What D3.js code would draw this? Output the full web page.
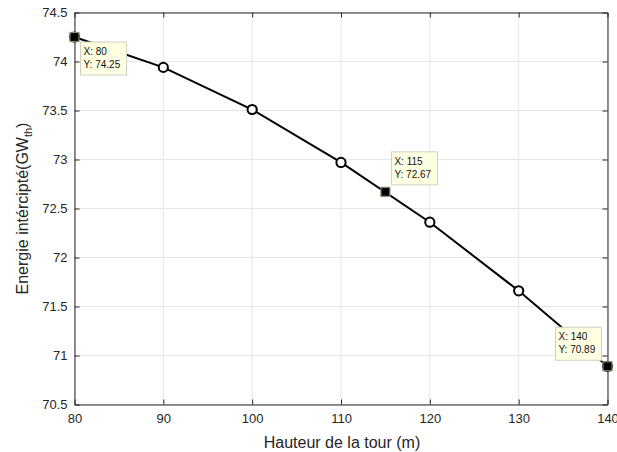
<!DOCTYPE html>
<html><head><meta charset="utf-8">
<script src="https://cdn.jsdelivr.net/npm/d3@7"></script>
<style>body{margin:0;background:#fff}svg{display:block;font-family:"Liberation Sans",Arial,sans-serif}</style>
</head><body><svg id="c" width="617" height="452"></svg>
<script>
const heights = [80, 90, 100, 110, 120, 130, 140];
const energy = [74.25, 73.94, 73.51, 72.97, 72.36, 71.66, 70.89];
const tipX = [80, 115, 140];
const tipY = [74.25, 72.67, 70.89];
const xTicks = [80, 90, 100, 110, 120, 130, 140];
const yTicks = [70.5, 71, 71.5, 72, 72.5, 73, 73.5, 74, 74.5];

const svg = d3.select("#c");
const L = 74.5, R = 607.5, T = 12.5, B = 404.5;
const x = d3.scaleLinear().domain([80, 140]).range([L, R]);
const y = d3.scaleLinear().domain([70.5, 74.5]).range([B, T]);

// grid
svg.append("g").selectAll("line").data(xTicks).join("line")
  .attr("x1", d => x(d)).attr("x2", d => x(d)).attr("y1", T).attr("y2", B)
  .attr("stroke", "#e6e6e6").attr("stroke-width", 1);
svg.append("g").selectAll("line").data(yTicks).join("line")
  .attr("y1", d => y(d)).attr("y2", d => y(d)).attr("x1", L).attr("x2", R)
  .attr("stroke", "#e6e6e6").attr("stroke-width", 1);

// axes
const fs = "13px";
const xa = svg.append("g").attr("transform", `translate(0,${B})`)
  .call(d3.axisBottom(x).tickValues(xTicks).tickSizeInner(-5).tickSizeOuter(0).tickPadding(9));
const ya = svg.append("g").attr("transform", `translate(${L},0)`)
  .call(d3.axisLeft(y).tickValues(yTicks).tickFormat(d3.format("")).tickSizeInner(-5).tickSizeOuter(0).tickPadding(7));
const xt = svg.append("g").attr("transform", `translate(0,${T})`)
  .call(d3.axisTop(x).tickValues(xTicks).tickSizeInner(-5).tickSizeOuter(0).tickFormat(""));
const yr = svg.append("g").attr("transform", `translate(${R},0)`)
  .call(d3.axisRight(y).tickValues(yTicks).tickSizeInner(-5).tickSizeOuter(0).tickFormat(""));
[xa, ya, xt, yr].forEach(g => {
  g.selectAll("path").attr("stroke", "#262626");
  g.selectAll("line").attr("stroke", "#262626");
  g.selectAll("text").attr("fill", "#262626").style("font-size", fs).style("font-family", '"Liberation Sans",Arial,sans-serif');
});

// line
svg.append("path").datum(heights.map((h, i) => [h, energy[i]]))
  .attr("d", d3.line().x(d => x(d[0])).y(d => y(d[1])))
  .attr("fill", "none").attr("stroke", "#000").attr("stroke-width", 2);

// circle markers
svg.append("g").selectAll("circle").data(heights.map((h, i) => [h, energy[i]])).join("circle")
  .attr("cx", d => x(d[0])).attr("cy", d => y(d[1])).attr("r", 4.6)
  .attr("fill", "#fff").attr("stroke", "#000").attr("stroke-width", 2);

// data tips
const tips = tipX.map((v, i) => ({x: v, y: tipY[i]}));
const offs = [[6, 5], [6, -40], [-52, -39]];
tips.forEach((t, i) => {
  const px = x(t.x), py = y(t.y);
  const g = svg.append("g");
  const bx = px + offs[i][0], by = py + offs[i][1];
  g.append("rect").attr("x", bx).attr("y", by).attr("width", 46).attr("height", 33)
    .attr("fill", "#ffffe1").attr("stroke", "#d0d0c0").attr("stroke-width", 1);
  g.append("text").attr("x", bx + 3).attr("y", by + 13).text(`X: ${t.x}`)
    .style("font-size", "10px").attr("fill", "#111");
  g.append("text").attr("x", bx + 3).attr("y", by + 26).text(`Y: ${t.y}`)
    .style("font-size", "10px").attr("fill", "#111");
  g.append("rect").attr("x", px - 4.5).attr("y", py - 4.5).attr("width", 9).attr("height", 9)
    .attr("fill", "#000").attr("stroke", "#8a8a70").attr("stroke-width", 1.2);
});

// labels
svg.append("text").attr("x", 342).attr("y", 448).attr("text-anchor", "middle")
  .style("font-size", "16px").attr("fill", "#262626").text("Hauteur de la tour (m)");
const yl = svg.append("text").attr("transform", `translate(28,${(T + B) / 2}) rotate(-90)`)
  .attr("text-anchor", "middle").style("font-size", "16px").attr("fill", "#262626");
yl.append("tspan").text("Energie intércipté(GW");
yl.append("tspan").attr("dy", 4).style("font-size", "11px").text("th");
yl.append("tspan").attr("dy", -4).text(")");
</script></body></html>
